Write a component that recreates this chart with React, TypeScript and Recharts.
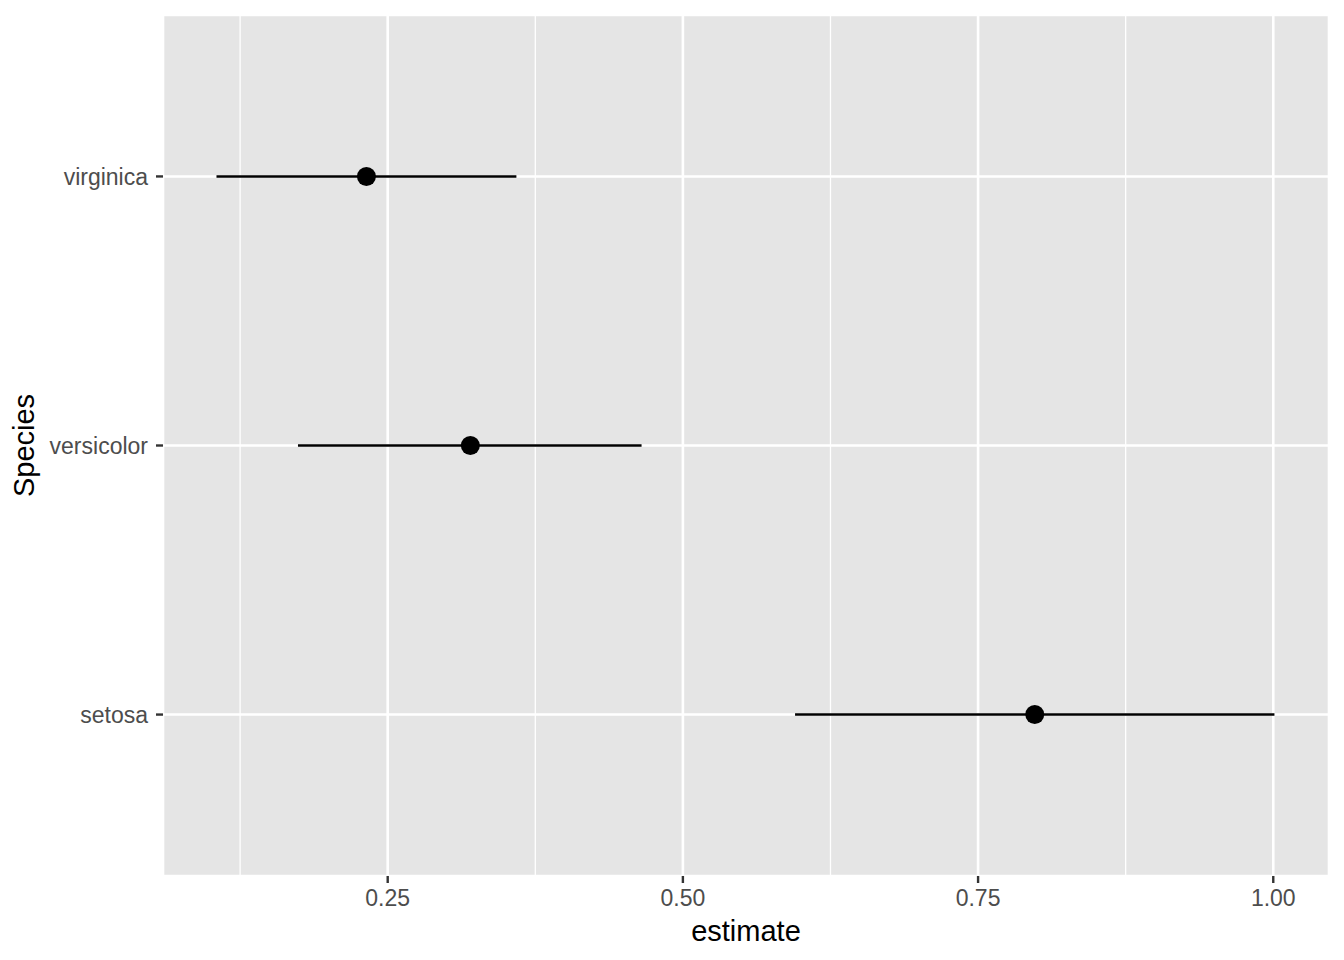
import React from "react";
import {
  CartesianGrid,
  ReferenceLine,
  Scatter,
  ScatterChart,
  XAxis,
  YAxis,
} from "recharts";

// bottom to top, same order as the y positions 1..3
const species = ["setosa", "versicolor", "virginica"];
const estimate = [0.798, 0.32, 0.232];
const conf_low = [0.595, 0.174, 0.105];
const conf_high = [1.001, 0.465, 0.359];

const xTicks = [0.25, 0.5, 0.75, 1.0];
const xMinor = [0.125, 0.375, 0.625, 0.875];
const xDomain = [0.0597, 1.0472];
const yTicks = [1, 2, 3];

const points = species.map((s, i) => ({ x: estimate[i], y: i + 1, name: s }));
const ranges = species.map((s, i) => [
  { x: conf_low[i], y: i + 1 },
  { x: conf_high[i], y: i + 1 },
]);

const tickStyle = { fill: "#4D4D4D", fontSize: 23 };
const tickLine = { stroke: "#333333", strokeWidth: 2.4 };

export default function App() {
  return (
    <div
      style={{
        position: "absolute",
        left: 0,
        top: 0,
        fontFamily: "'Liberation Sans', Arial, Helvetica, sans-serif",
        background: "#fff",
      }}
    >
      <ScatterChart
        width={1344}
        height={960}
        margin={{ top: 15, right: 15, left: 0, bottom: 0 }}
      >
        <CartesianGrid fill="#E5E5E5" stroke="#FFFFFF" strokeWidth={2.6} />
        {xMinor.map((v) => (
          <ReferenceLine key={v} x={v} stroke="#FFFFFF" strokeWidth={1.3} />
        ))}
        <XAxis
          type="number"
          dataKey="x"
          domain={xDomain}
          ticks={xTicks}
          allowDataOverflow
          height={84}
          axisLine={false}
          tickLine={tickLine}
          tickSize={7}
          tickMargin={7}
          tick={tickStyle}
          tickFormatter={(v: number) => v.toFixed(2)}
          label={{
            content: ({ viewBox }: any) => (
              <text
                x={viewBox.x + viewBox.width / 2}
                y={viewBox.y + 65}
                textAnchor="middle"
                fontSize={29}
                fill="#000"
              >
                estimate
              </text>
            ),
          }}
        />
        <YAxis
          type="number"
          dataKey="y"
          domain={[0.4, 3.6]}
          ticks={yTicks}
          allowDataOverflow
          width={163}
          axisLine={false}
          tickLine={tickLine}
          tickSize={7}
          tickMargin={8}
          tick={tickStyle}
          tickFormatter={(v: number) => species[v - 1]}
          label={{
            content: ({ viewBox }: any) => {
              const cx = viewBox.x + 34;
              const cy = viewBox.y + viewBox.height / 2;
              return (
                <text
                  x={cx}
                  y={cy}
                  transform={`rotate(-90 ${cx} ${cy})`}
                  textAnchor="middle"
                  fontSize={29}
                  fill="#000"
                >
                  Species
                </text>
              );
            },
          }}
        />
        {ranges.map((r, i) => (
          <Scatter
            key={species[i]}
            data={r}
            line={{ stroke: "#000", strokeWidth: 2.6 }}
            shape={() => <g />}
            isAnimationActive={false}
          />
        ))}
        <Scatter
          data={points}
          fill="#000"
          shape={(p: any) => <circle cx={p.cx} cy={p.cy} r={9.5} fill="#000" />}
          isAnimationActive={false}
        />
      </ScatterChart>
    </div>
  );
}
